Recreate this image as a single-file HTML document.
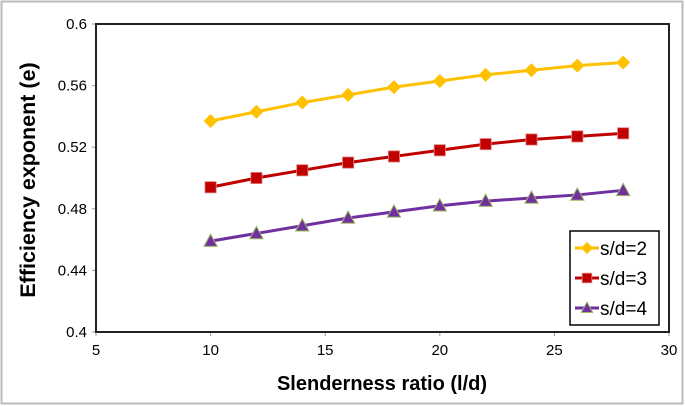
<!DOCTYPE html>
<html><head><meta charset="utf-8"><style>
html,body{margin:0;padding:0;background:#fff;}
svg{display:block;font-family:"Liberation Sans",Arial,sans-serif;}
</style></head><body>
<svg id="chart" width="685" height="406" viewBox="0 0 685 406">
<rect x="1.5" y="1.5" width="681" height="402" fill="#fff" stroke="#bbb" stroke-width="2"/>
<g id="grid"></g>
<rect x="96" y="24" width="573" height="308" fill="none" stroke="#222" stroke-width="2"/>
<g id="series"></g>
<text x="35" y="180" transform="rotate(-90 35 180)" text-anchor="middle" font-size="21.5" font-weight="bold">Efficiency exponent (e)</text>
<text x="382" y="390" text-anchor="middle" font-size="20" font-weight="bold">Slenderness ratio (l/d)</text>
<g>
<rect x="570" y="231" width="89" height="94" fill="#fff" stroke="#000" stroke-width="1.5"/>
<g id="legend"></g>
</g>
</svg>
<script>
const xValues=[10,12,14,16,18,20,22,24,26,28];
const sd2=[0.537,0.543,0.549,0.554,0.559,0.563,0.567,0.570,0.573,0.575];
const sd3=[0.494,0.500,0.505,0.510,0.514,0.518,0.522,0.525,0.527,0.529];
const sd4=[0.459,0.464,0.469,0.474,0.478,0.482,0.485,0.487,0.489,0.492];
const xTicks=[5,10,15,20,25,30];
const yTicks=[0.4,0.44,0.48,0.52,0.56,0.6];
const yTickLabels=["0.4","0.44","0.48","0.52","0.56","0.6"];
const seriesNames=["s/d=2","s/d=3","s/d=4"];
const NS="http://www.w3.org/2000/svg";
const X0=96,X1=669,Y0=332,Y1=24;
function sx(v){return X0+(v-5)/(30-5)*(X1-X0);}
function sy(v){return Y0-(v-0.4)/(0.6-0.4)*(Y0-Y1);}
function mk(tag,attrs,parent){const e=document.createElementNS(NS,tag);for(const k in attrs)e.setAttribute(k,attrs[k]);parent.appendChild(e);return e;}
const grid=document.getElementById('grid');
xTicks.forEach(t=>{
 const l=mk('line',{x1:sx(t),x2:sx(t),y1:Y0,y2:Y0+4,stroke:'#999'},grid);
 
 
 const tx=mk('text',{x:sx(t),y:Y0+23,'text-anchor':'middle','font-size':'15'},grid);
 tx.textContent=t;
 
 
});
yTicks.forEach((t,i)=>{
 const l=mk('line',{x1:X0-4,x2:X0,y1:sy(t),y2:sy(t),stroke:'#999'},grid);
 
 
 const tx=mk('text',{x:X0-9,y:sy(t)+5,'text-anchor':'end','font-size':'15'},grid);
 tx.textContent=yTickLabels[i];
 
 
});
const colors=['#FFC000','#C00000','#7030A0'];
const strokes=['#FFC000','#E08080','#9BBB59'];
function marker(type,x,y,i,g,s){
 let e;
 if(type===0) e=mk('polygon',{points:`${x},${y-s} ${x+s},${y} ${x},${y+s} ${x-s},${y}`,fill:colors[i]},g);
 else if(type===1) e=mk('rect',{x:x-s*0.8,y:y-s*0.8,width:s*1.6,height:s*1.6,fill:colors[i],stroke:strokes[i],'stroke-width':0.8},g);
 else e=mk('polygon',{points:`${x},${y-s} ${x+s*0.95},${y+s*0.75} ${x-s*0.95},${y+s*0.75}`,fill:colors[i],stroke:strokes[i],'stroke-width':1},g);
 return e;
}
const sg=document.getElementById('series');
[sd2,sd3,sd4].forEach((arr,i)=>{
 const g=mk('g',{},sg);
 
 
 const p=mk('polyline',{points:arr.map((v,j)=>sx(xValues[j])+','+sy(v)).join(' '),fill:'none',stroke:colors[i],'stroke-width':3},g);
 
 
 arr.forEach((v,j)=>{
  const m=marker(i,sx(xValues[j]),sy(v),i,g,7);
  
  
 });
});
const lg=document.getElementById('legend');
seriesNames.forEach((n,i)=>{
 const y=248+i*30;
 const g=mk('g',{},lg);
 
 
 mk('line',{x1:575,x2:599,y1:y,y2:y,stroke:colors[i],'stroke-width':3},g);
 marker(i,587,y,i,g,6);
 const t=mk('text',{x:600,y:y+7,'font-size':'19'},g);
 t.textContent=n;
});
</script>
</body></html>
